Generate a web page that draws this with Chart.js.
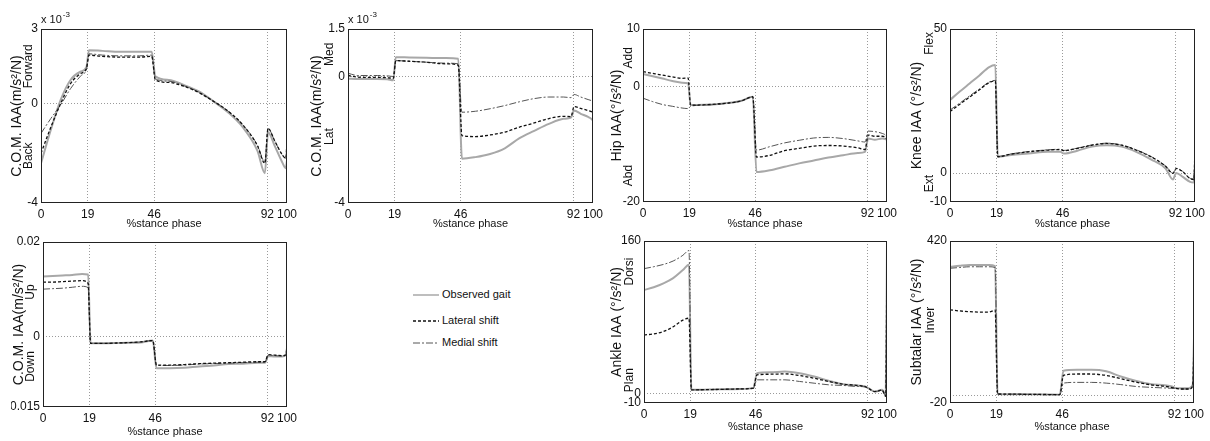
<!DOCTYPE html>
<html>
<head>
<meta charset="utf-8">
<script src="https://cdn.jsdelivr.net/npm/chart.js@4.4.0/dist/chart.umd.min.js"></script>
<style>
  body { margin: 0; background: #fff; }
  #wrap { position: relative; width: 1210px; height: 441px; overflow: hidden;
          font-family: "Liberation Sans", Arial, sans-serif; color: #111; }
  #wrap canvas { position: absolute; }
  .leg { position: absolute; left: 413px; height: 14px; line-height: 14px; font-size: 11px; white-space: nowrap; }
  .leg svg { vertical-align: middle; margin-right: 3px; }
</style>
</head>
<body>
<div id="wrap">
  <div class="leg" style="top:287px"><svg width="26" height="4"><line x1="0" y1="2" x2="26" y2="2" stroke="#a8a8a8" stroke-width="1.5"/></svg>Observed gait</div>
  <div class="leg" style="top:313px"><svg width="26" height="4"><line x1="0" y1="2" x2="26" y2="2" stroke="#111" stroke-width="1.3" stroke-dasharray="3 2"/></svg>Lateral shift</div>
  <div class="leg" style="top:335px"><svg width="26" height="4"><line x1="0" y1="2" x2="26" y2="2" stroke="#555" stroke-width="1" stroke-dasharray="7 2 2 2"/></svg>Medial shift</div>
</div>
<script>
// % stance phase sample points (shared by all panels)
const pct = [0, 4, 8, 12, 16, 18.5, 19.5, 25, 32, 40, 45, 46.5, 52, 58, 64, 70, 76, 82, 88, 91, 92.3, 95, 98, 99.5, 100];
const xTicks = [0, 19, 46, 92, 100];

// C.O.M. fore-aft IAA (x 10^-3 m/s^2/N)
const comFwdObs = [-2.4, -1.05, 0.15, 0.95, 1.28, 1.48, 2.15, 2.12, 2.08, 2.08, 2.08, 1.1, 0.95, 0.75, 0.5, 0.1, -0.35, -0.95, -1.9, -2.8, -1.15, -1.7, -2.35, -2.6, -2.3];
const comFwdLat = [-2.0, -0.95, 0.0, 0.8, 1.2, 1.42, 1.95, 1.9, 1.87, 1.87, 1.9, 0.95, 0.85, 0.7, 0.45, 0.1, -0.3, -0.85, -1.7, -2.4, -1.0, -1.5, -2.05, -2.2, -1.5];
const comFwdMed = [-1.2, -0.6, -0.05, 0.6, 1.1, 1.4, 2.0, 1.95, 1.92, 1.92, 1.95, 1.0, 0.9, 0.72, 0.47, 0.1, -0.3, -0.85, -1.68, -2.35, -1.0, -1.5, -2.05, -2.2, -1.6];

// C.O.M. med-lat IAA (x 10^-3)
const comLatObs = [-0.07, -0.08, -0.08, -0.08, -0.09, -0.12, 0.61, 0.6, 0.59, 0.58, 0.56, -2.6, -2.55, -2.45, -2.27, -1.95, -1.72, -1.5, -1.34, -1.3, -1.08, -1.18, -1.28, -1.35, -1.4];
const comLatLat = [0.03, -0.02, -0.03, -0.03, -0.04, -0.06, 0.5, 0.48, 0.45, 0.4, 0.36, -1.87, -1.9, -1.85, -1.76, -1.6, -1.47, -1.33, -1.26, -1.27, -0.95, -1.01, -1.08, -1.12, -1.16];
const comLatMed = [0.1, 0.03, 0.03, 0.03, 0.02, 0.0, 0.5, 0.48, 0.45, 0.42, 0.4, -1.13, -1.1, -1.02, -0.92, -0.8, -0.7, -0.65, -0.65, -0.67, -0.57, -0.65, -0.73, -0.77, -0.8];

// Hip IAA
const hipObs = [2.2, 1.8, 1.4, 1.0, 0.7, 0.6, -3.2, -3.15, -2.95, -2.5, -1.75, -14.8, -14.5, -13.9, -13.3, -12.8, -12.3, -11.9, -11.5, -11.3, -9.0, -9.2, -9.0, -9.1, -9.3];
const hipLat = [2.6, 2.3, 2.0, 1.7, 1.45, 1.5, -3.2, -3.15, -2.95, -2.5, -1.75, -12.2, -11.9, -11.1, -10.7, -10.3, -10.2, -10.3, -10.6, -10.9, -8.4, -8.6, -8.6, -8.8, -9.2];
const hipMed = [-2.0, -2.6, -3.1, -3.4, -3.7, -3.8, -3.4, -3.2, -3.0, -2.5, -1.8, -11.0, -10.4, -9.75, -9.3, -8.9, -8.8, -9.0, -9.4, -9.6, -7.7, -7.8, -8.1, -8.5, -9.0];

// Knee IAA
const kneeObs = [25.4, 28.3, 31.1, 33.9, 36.8, 37.5, 5.7, 6.3, 6.8, 7.4, 7.4, 6.8, 7.8, 9.2, 9.7, 9.2, 7.4, 4.8, 1.6, -2.2, 0.1, -1.3, -3.0, -3.2, 2.2];
const kneeLat = [21.4, 23.9, 26.4, 28.9, 31.4, 32.0, 5.7, 6.6, 7.4, 8.0, 8.2, 7.8, 8.6, 9.7, 10.3, 9.7, 8.0, 5.7, 2.4, -0.1, 1.6, 0.5, -1.9, -2.2, 8.0];
const kneeMed = [21.9, 24.3, 26.8, 29.2, 31.6, 32.2, 5.8, 6.7, 7.5, 8.1, 8.3, 7.9, 8.7, 9.8, 10.4, 9.8, 8.1, 5.8, 2.5, 0.0, 1.7, 0.6, -1.8, -2.0, 6.0];

// C.O.M. vertical IAA (m/s^2/N)
const comUpObs = [0.0127, 0.0128, 0.0129, 0.013, 0.0132, 0.0131, -0.0015, -0.0015, -0.0014, -0.0013, -0.0009, -0.0068, -0.0068, -0.0067, -0.0064, -0.0062, -0.0059, -0.0058, -0.0056, -0.0056, -0.0042, -0.0043, -0.0043, -0.004, -0.0025];
const comUpLat = [0.0115, 0.0115, 0.0116, 0.0117, 0.0118, 0.0112, -0.0015, -0.0015, -0.0014, -0.0012, -0.0009, -0.0061, -0.0061, -0.006, -0.0058, -0.0057, -0.0056, -0.0055, -0.0054, -0.0054, -0.0039, -0.004, -0.0041, -0.0039, -0.0024];
const comUpMed = [0.01, 0.0101, 0.0102, 0.0104, 0.0106, 0.0103, -0.0015, -0.0015, -0.0014, -0.0012, -0.0009, -0.0062, -0.0062, -0.0061, -0.0059, -0.0058, -0.0057, -0.0056, -0.0055, -0.0055, -0.004, -0.0041, -0.0042, -0.004, -0.0025];

// Ankle IAA
const ankleObs = [108.5, 111.5, 115.5, 121, 129.5, 135, 3.8, 4.0, 4.3, 4.8, 5.6, 21.3, 22.3, 23, 21.3, 17.8, 13.3, 9.8, 8.4, 7.3, 5.6, 2.0, 3.8, -2, 158];
const ankleLat = [61.4, 62.5, 65, 70, 77, 79, 3.8, 4.0, 4.3, 4.8, 5.6, 19.5, 20.2, 20.6, 18.8, 16, 12.6, 9.8, 8.4, 7.3, 5.6, 2.0, 3.5, -3, 158];
const ankleMed = [131, 133, 135.4, 139, 145, 150, 3.8, 4.0, 4.3, 4.8, 5.6, 14.3, 14.3, 14.3, 12.6, 10.8, 9.1, 8.4, 7.3, 7.0, 5.0, 2.0, 3.0, -2, 158];

// Subtalar IAA
const subObs = [350, 353, 355, 355, 355, 352, 4.5, 4.0, 3.5, 3.0, 2.7, 67.8, 70, 70, 66, 52, 40.6, 31.6, 28, 25, 20.8, 20, 20, 30, 156];
const subLat = [233, 230, 228, 227, 227, 232, 4.5, 4.0, 3.5, 3.0, 2.7, 55, 58.7, 58.7, 55, 46, 37, 29.8, 25.3, 22, 20, 18, 18, 28, 150];
const subMed = [346, 348, 350, 350, 350, 348, 4.5, 4.0, 3.5, 3.0, 2.7, 34, 36, 36, 34, 30, 25, 22.6, 20.8, 20, 20, 18, 18, 28, 150];

// line look: observed / lateral / medial
const styles = [
  { label: 'Observed gait', borderColor: '#a8a8a8', borderWidth: 2, borderDash: [], order: 3 },
  { label: 'Lateral shift', borderColor: '#111', borderWidth: 1.3, borderDash: [3, 2], order: 1 },
  { label: 'Medial shift', borderColor: '#555', borderWidth: 1, borderDash: [7, 2, 2, 2], order: 2 }
];

// box = plot area [left, top, right, bottom] in page pixels
const panels = [
  { box: [41, 29, 287, 203], yMin: -4, yMax: 3, yTicks: [3, 0, -4], yLabels: ['3', '0', '-4'],
    title: 'C.O.M. IAA(m/s²/N)', dirs: [['Forward', 1.5], ['Back', -2.1]], titleOff: 24, dirOff: 12, xh: 28, exp: '-3',
    series: [comFwdObs, comFwdLat, comFwdMed] },
  { box: [348, 29, 593, 203], yMin: -4, yMax: 1.5, yTicks: [1.5, 0, -4], yLabels: ['1.5', '0', '-4'],
    title: 'C.O.M. IAA(m/s²/N)', dirs: [['Med', 0.7], ['Lat', -1.9]], titleOff: 31, dirOff: 18, xh: 28, exp: '-3',
    series: [comLatObs, comLatLat, comLatMed] },
  { box: [643, 29, 887, 202], yMin: -20, yMax: 10, yTicks: [10, 0, -20], yLabels: ['10', '0', '-20'],
    title: 'Hip IAA(°/s²/N)', dirs: [['Add', 5], ['Abd', -15.4]], titleOff: 26, dirOff: 14, xh: 29,
    series: [hipObs, hipLat, hipMed] },
  { box: [950, 29, 1195, 202], yMin: -10, yMax: 50, yTicks: [50, 0, -10], yLabels: ['50', '0', '-10'],
    title: 'Knee IAA (°/s²/N)', dirs: [['Flex', 45], ['Ext', -3.6]], titleOff: 33, dirOff: 20, xh: 29,
    series: [kneeObs, kneeLat, kneeMed] },
  { box: [43, 242, 287, 407], yMin: -0.015, yMax: 0.02, yTicks: [0.02, 0, -0.015], yLabels: ['0.02', '0', '-0.015'],
    title: 'C.O.M. IAA(m/s²/N)', dirs: [['Up', 0.0094], ['Down', -0.0064]], titleOff: 24, dirOff: 12, xh: 32,
    series: [comUpObs, comUpLat, comUpMed] },
  { box: [644, 241, 887, 403], yMin: -10, yMax: 160, yTicks: [160, 0, -10], yLabels: ['160', '0', '-10'],
    title: 'Ankle IAA (°/s²/N)', dirs: [['Dorsi', 128], ['Plan', 14]], titleOff: 27, dirOff: 14, xh: 31,
    series: [ankleObs, ankleLat, ankleMed] },
  { box: [950, 241, 1194, 403], yMin: -20, yMax: 420, yTicks: [420, 0, -20], yLabels: ['420', '', '-20'],
    title: 'Subtalar IAA (°/s²/N)', dirs: [['Inver', 205]], titleOff: 33, dirOff: 19, xh: 31,
    series: [subObs, subLat, subMed] }
];

const FONT = '"Liberation Sans", Arial, sans-serif';
const gridGray = '#9a9a9a';

// frame box, direction words and the x10^-3 note
const extras = {
  id: 'extras',
  afterDraw(chart, args, opts) {
    const { ctx, chartArea: a } = chart;
    const y = chart.scales.y;
    ctx.save();
    ctx.strokeStyle = '#222';
    ctx.lineWidth = 1;
    ctx.strokeRect(a.left + 0.5, a.top + 0.5, a.width - 1, a.height - 1);
    ctx.fillStyle = '#111';
    ctx.font = '12px ' + FONT;
    ctx.textAlign = 'center';
    ctx.textBaseline = 'middle';
    opts.dirs.forEach(([txt, v]) => {
      ctx.save();
      ctx.translate(a.left - opts.dirOff, y.getPixelForValue(v));
      ctx.rotate(-Math.PI / 2);
      ctx.fillText(txt, 0, 0);
      ctx.restore();
    });
    if (opts.exp) {
      ctx.textAlign = 'left';
      ctx.textBaseline = 'alphabetic';
      ctx.font = '11px ' + FONT;
      ctx.fillText('x 10', a.left, a.top - 6);
      const w = ctx.measureText('x 10').width;
      ctx.font = '8px ' + FONT;
      ctx.fillText(opts.exp, a.left + w + 1, a.top - 12);
    }
    ctx.restore();
  }
};

const wrap = document.getElementById('wrap');

panels.forEach(p => {
  const [l, t, r, b] = p.box;
  const padL = 12, padT = 22, padR = 14;
  const yw = Math.round(p.titleOff + 8);
  const w = padL + yw + (r - l) + padR;
  const h = padT + (b - t) + p.xh;
  const cv = document.createElement('canvas');
  cv.width = w; cv.height = h;
  cv.style.width = w + 'px'; cv.style.height = h + 'px';
  cv.style.left = (l - yw - padL) + 'px';
  cv.style.top = (t - padT) + 'px';
  wrap.appendChild(cv);

  const datasets = p.series.map((vals, i) => Object.assign({
    data: pct.map((x, k) => ({ x: x, y: vals[k] })),
    pointRadius: 0,
    fill: false,
    cubicInterpolationMode: 'monotone'
  }, styles[i]));

  new Chart(cv, {
    type: 'line',
    data: { datasets },
    plugins: [extras],
    options: {
      responsive: false,
      animation: false,
      layout: { padding: { left: padL, top: padT, right: padR, bottom: 0 } },
      plugins: {
        legend: { display: false },
        tooltip: { enabled: false },
        extras: { dirs: p.dirs, dirOff: p.dirOff, exp: p.exp }
      },
      scales: {
        x: {
          type: 'linear', min: 0, max: 100,
          afterBuildTicks: a => { a.ticks = xTicks.map(v => ({ value: v })); },
          afterFit: s => { s.height = p.xh; s.paddingLeft = 0; s.paddingRight = 0; },
          grid: { color: c => [19, 46, 92].includes(c.tick && c.tick.value) ? gridGray : 'rgba(0,0,0,0)', drawTicks: false },
          border: { display: false, dash: [1, 2] },
          ticks: { autoSkip: false, maxRotation: 0, padding: 4, color: '#111', font: { size: 12, family: FONT },
                   callback: v => String(v) },
          title: { display: true, text: '%stance phase', color: '#111', padding: 0, font: { size: 11, family: FONT, lineHeight: 1.2 } }
        },
        y: {
          min: p.yMin, max: p.yMax,
          afterBuildTicks: a => { a.ticks = p.yTicks.map(v => ({ value: v })); },
          afterFit: s => { s.width = yw; s.paddingTop = 0; s.paddingBottom = 0; },
          grid: { color: c => (c.tick && c.tick.value === 0) ? gridGray : 'rgba(0,0,0,0)', drawTicks: false },
          border: { display: false, dash: [1, 2] },
          ticks: { padding: 3, color: '#111', font: { size: 12, family: FONT },
                   callback: (v, i) => p.yLabels[i] },
          title: { display: true, text: p.title, color: '#111', padding: 0, font: { size: 14, family: FONT, lineHeight: 1.2 } }
        }
      }
    }
  });
});
</script>
</body>
</html>
